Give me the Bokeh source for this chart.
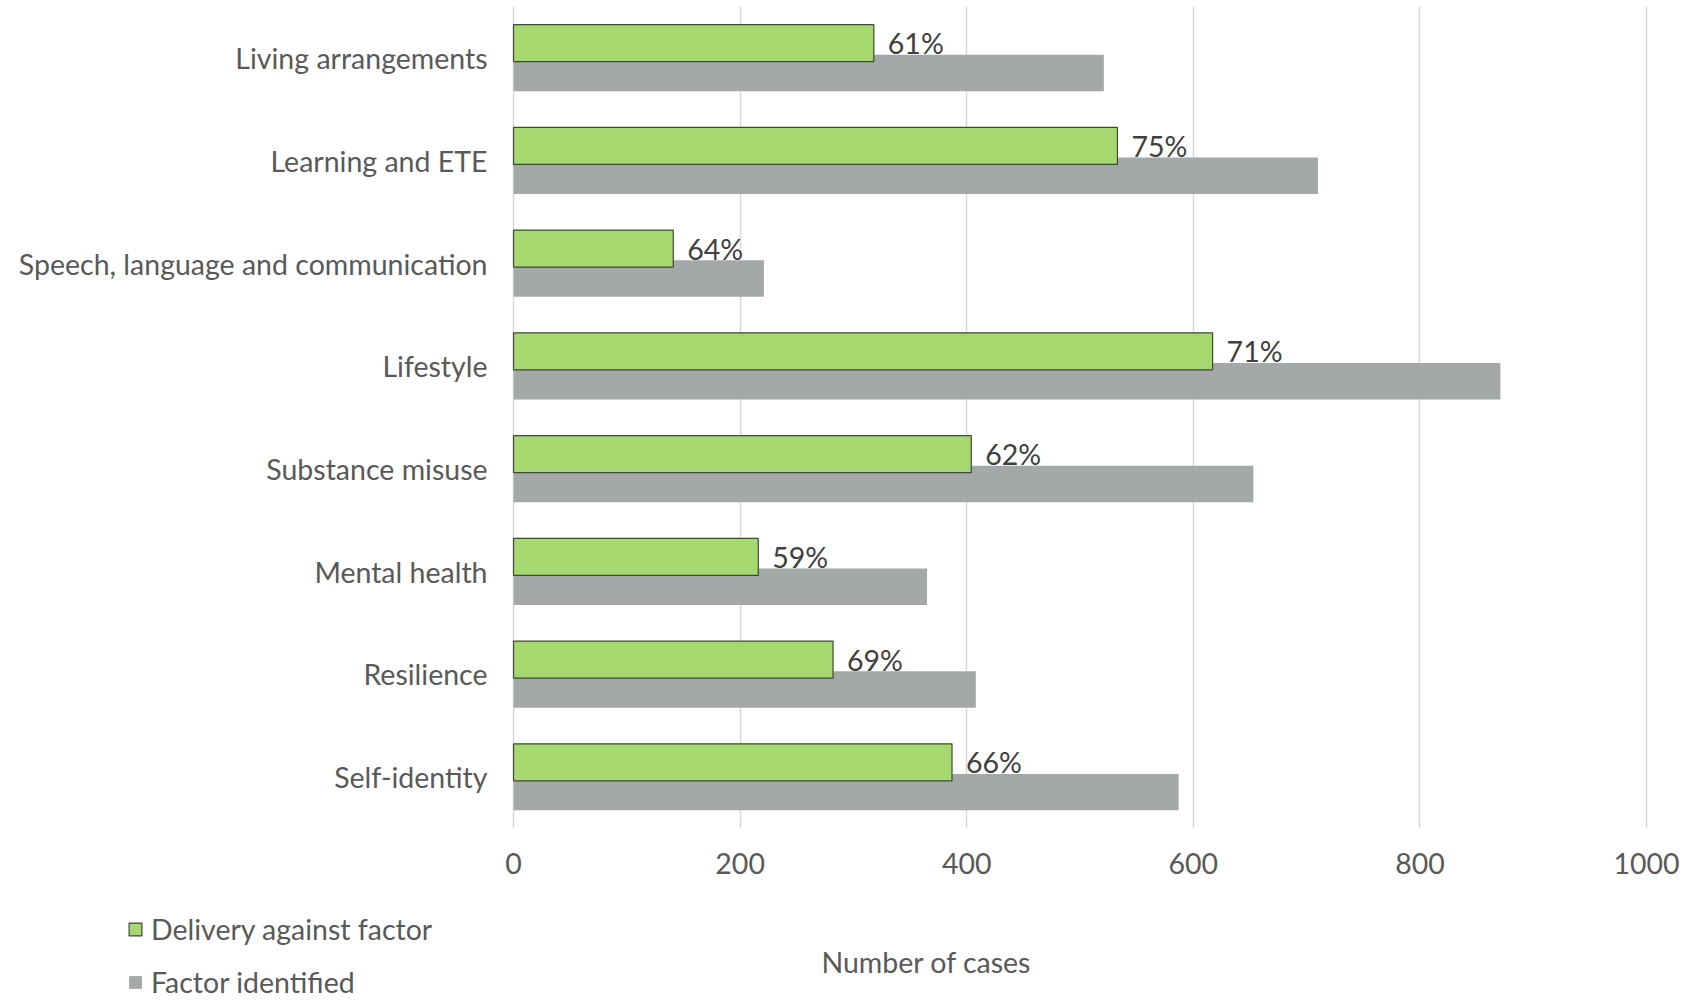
from bokeh.plotting import figure
from bokeh.models import ColumnDataSource, FixedTicker, Label, Legend, LegendItem, Range1d
from bokeh.transform import dodge
from bokeh.core.properties import value
from bokeh.embed import file_html
from bokeh.resources import INLINE

# ---- data (top to bottom as in the chart) ----
categories = ["Living arrangements", "Learning and ETE", "Speech, language and communication",
              "Lifestyle", "Substance misuse", "Mental health", "Resilience", "Self-identity"]
delivery = [318, 533, 141, 617, 404, 216, 282, 387]
identified = [521, 710, 221, 871, 653, 365, 408, 587]
pct_labels = ["61%", "75%", "64%", "71%", "62%", "59%", "69%", "66%"]
x_ticks = [0, 200, 400, 600, 800, 1000]
series_names = ["Delivery against factor", "Factor identified"]
axis_title = "Number of cases"

FONT = "Lato"
FS = "28.5px"
TXT = "#595959"
GREEN = "#A5D86E"
GRAY = "#A5A8A8"
OUTLINE = "#3F4A35"

n = len(categories)
ypos = [n - 1 - i for i in range(n)]          # top category highest
src = ColumnDataSource(dict(y=ypos, deliv=delivery, ident=identified, pct=pct_labels))

# frame covers the whole canvas; axes are pinned inside it
p = figure(width=1690, height=1000,
           x_range=Range1d(-452.8, 1038.8), y_range=Range1d(-2.173, 7.56),
           output_backend="svg", toolbar_location=None,
           min_border_left=0, min_border_right=0, min_border_top=0, min_border_bottom=0)
p.outline_line_color = None

# percent labels (drawn under the bars so the grey bar trims them, as in the original)
p.text(x="deliv", y=dodge("y", 0.145), text="pct", source=src,
       x_offset=14, text_baseline="middle", text_align="left",
       text_font=value(FONT), text_font_size=FS, text_color="#404040")

r_gray = p.hbar(y=dodge("y", -0.145), right="ident", left=0, height=0.355,
                source=src, fill_color=GRAY, line_color=None)
r_green = p.hbar(y=dodge("y", 0.145), right="deliv", left=0, height=0.36,
                 source=src, fill_color=GREEN, line_color=OUTLINE, line_width=1.2)

# axes
p.xaxis.fixed_location = -0.5
p.xaxis.ticker = FixedTicker(ticks=x_ticks)
p.xaxis.axis_line_color = None
p.xaxis.major_tick_line_color = None
p.xaxis.minor_tick_line_color = None
p.xaxis.major_label_text_font = FONT
p.xaxis.major_label_text_font_size = FS
p.xaxis.major_label_text_color = TXT
p.xaxis.major_label_standoff = 18

p.yaxis.fixed_location = 0
p.yaxis.ticker = FixedTicker(ticks=ypos)
p.yaxis.major_label_overrides = {y: c for y, c in zip(ypos, categories)}
p.yaxis.axis_line_color = None
p.yaxis.major_tick_line_color = None
p.yaxis.minor_tick_line_color = None
p.yaxis.major_label_text_font = FONT
p.yaxis.major_label_text_font_size = FS
p.yaxis.major_label_text_color = TXT
p.yaxis.major_label_standoff = 20

p.xgrid.grid_line_color = "#D9D9D9"
p.xgrid.grid_line_width = 1.5
p.xgrid.bounds = (0, 1000)
p.xgrid.cross_bounds = (-0.5, n - 0.5)
p.ygrid.grid_line_color = None

# legend and axis title below the plot area
legend = Legend(items=[LegendItem(label=series_names[0], renderers=[r_green]),
                       LegendItem(label=series_names[1], renderers=[r_gray])],
                location=(127, 1), orientation="vertical",
                glyph_width=16, glyph_height=16, label_height=26, spacing=19,
                label_standoff=8, padding=0, margin=0,
                label_text_font=FONT, label_text_font_size=FS, label_text_color=TXT,
                background_fill_alpha=0, border_line_color=None)
p.add_layout(legend)

p.add_layout(Label(x=926, y=1000 - 961, x_units="screen", y_units="screen",
                   text=axis_title, text_align="center", text_baseline="middle",
                   text_font=FONT, text_font_size=FS, text_color=TXT))

open("out.html", "w").write(file_html(p, INLINE))
